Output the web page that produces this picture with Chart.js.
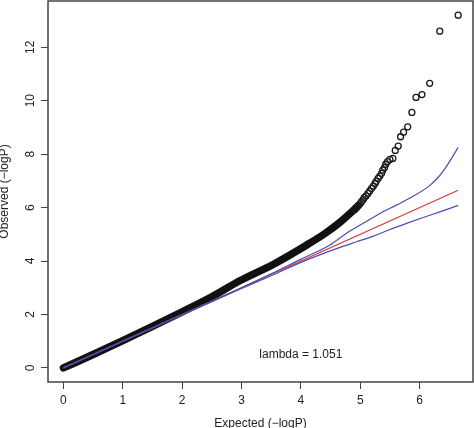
<!DOCTYPE html>
<html>
<head>
<meta charset="utf-8">
<script src="https://cdn.jsdelivr.net/npm/chart.js@4.4.1/dist/chart.umd.min.js"></script>
<style>
    html, body { margin: 0; padding: 0; background: #fff; }
    #wrap { width: 474px; height: 428px; }
</style>
</head>
<body>
<div id="wrap"><canvas id="qq" width="474" height="428"></canvas></div>
<script>
    // Tick labels
    const xTicks = [0, 1, 2, 3, 4, 5, 6];
    const yTicks = [0, 2, 4, 6, 8, 10, 12];

    // Dense part of the observed quantiles (the black band)
    const bandX = [0, 0.5, 1, 1.5, 2, 2.5, 2.97, 3.54, 4.1, 4.4, 4.66, 4.85, 4.97];
    const bandY = [0, 0.5, 1.02, 1.55, 2.1, 2.66, 3.26, 3.88, 4.6, 5.02, 5.45, 5.82, 6.08];

    // Sparse tail, individual circles
    const tailX = [4.91, 4.94, 4.97, 5.0, 5.02, 5.05, 5.07, 5.10, 5.13, 5.16, 5.19, 5.22, 5.25, 5.27, 5.30, 5.33,
                   5.36, 5.38, 5.41, 5.43, 5.46, 5.50, 5.55, 5.59, 5.64, 5.68, 5.73, 5.80, 5.87, 5.94, 6.04, 6.17, 6.34, 6.65];
    const tailY = [5.93, 6.0, 6.08, 6.15, 6.22, 6.30, 6.38, 6.44, 6.53, 6.62, 6.72, 6.80, 6.90, 6.98, 7.09, 7.18,
                   7.28, 7.40, 7.50, 7.62, 7.72, 7.80, 7.84, 8.14, 8.30, 8.65, 8.82, 9.02, 9.56, 10.12, 10.23, 10.65, 12.6, 13.2];

    // Null line y = x
    const nullX = [0, 6.65];
    const nullY = [0, 6.65];

    // 95% band of expected order statistics
    const upperX = [0, 1, 2, 3, 3.5, 4, 4.49, 4.77, 5.05, 5.33, 5.61, 5.89, 6.17, 6.34, 6.5, 6.65];
    const upperY = [0, 1.0, 2.0, 3.0, 3.52, 4.07, 4.6, 5.04, 5.41, 5.78, 6.09, 6.42, 6.82, 7.2, 7.7, 8.25];
    const lowerX = [0, 1, 2, 3, 3.5, 4, 4.66, 4.94, 5.22, 5.5, 5.78, 6.06, 6.34, 6.65];
    const lowerY = [0, 1, 1.98, 2.97, 3.45, 3.95, 4.51, 4.72, 4.93, 5.18, 5.41, 5.63, 5.84, 6.08];

    const lambdaText = 'lambda = 1.051';
    const xTitle = 'Expected (\u2212logP)';
    const yTitle = 'Observed (\u2212logP)';

    const FONT = '"Liberation Sans", Arial, sans-serif';
    const AXIS = '#444';

    function pts(xs, ys) {
        return xs.map((x, i) => ({ x: x, y: ys[i] }));
    }

    // box + titles + lambda label, R style
    const rDecor = {
        id: 'rDecor',
        afterDraw(chart) {
            const { ctx, chartArea: a, scales } = chart;
            ctx.save();
            ctx.strokeStyle = AXIS;
            ctx.lineWidth = 1.5;
            ctx.strokeRect(a.left, a.top, a.right - a.left, a.bottom - a.top);

            ctx.fillStyle = '#222';
            ctx.font = '12px ' + FONT;
            ctx.textAlign = 'center';
            ctx.textBaseline = 'middle';
            ctx.fillText(lambdaText, scales.x.getPixelForValue(4.0), scales.y.getPixelForValue(0.48));

            ctx.fillText(xTitle, (a.left + a.right) / 2, 424);

            ctx.translate(5, (a.top + a.bottom) / 2);
            ctx.rotate(-Math.PI / 2);
            ctx.fillText(yTitle, 0, 0);
            ctx.restore();
        }
    };

    new Chart(document.getElementById('qq'), {
        type: 'scatter',
        data: {
            datasets: [
                {
                    label: 'upper',
                    data: pts(upperX, upperY),
                    showLine: true,
                    borderColor: '#4b4bb0',
                    borderWidth: 1.2,
                    pointRadius: 0,
                    cubicInterpolationMode: 'monotone'
                },
                {
                    label: 'lower',
                    data: pts(lowerX, lowerY),
                    showLine: true,
                    borderColor: '#4b4bb0',
                    borderWidth: 1.2,
                    pointRadius: 0,
                    cubicInterpolationMode: 'monotone'
                },
                {
                    label: 'null',
                    data: pts(nullX, nullY),
                    showLine: true,
                    borderColor: '#d93a3a',
                    borderWidth: 1.2,
                    pointRadius: 0
                },
                {
                    label: 'tail',
                    data: pts(tailX, tailY),
                    pointRadius: 3,
                    pointBorderWidth: 1.3,
                    pointBorderColor: '#1a1a1a',
                    pointBackgroundColor: 'rgba(0,0,0,0)'
                },
                {
                    label: 'band',
                    data: pts(bandX, bandY),
                    showLine: true,
                    borderColor: '#111',
                    borderWidth: 7.5,
                    borderCapStyle: 'round',
                    borderJoinStyle: 'round',
                    pointRadius: 0,
                    cubicInterpolationMode: 'monotone'
                }
            ]
        },
        options: {
            responsive: false,
            animation: false,
            devicePixelRatio: 1,
            layout: { autoPadding: false, padding: { top: 1, right: 1, left: 0, bottom: 0 } },
            plugins: { legend: { display: false }, tooltip: { enabled: false } },
            scales: {
                x: {
                    type: 'linear',
                    min: -0.26,
                    max: 6.9,
                    afterBuildTicks: s => { s.ticks = xTicks.map(v => ({ value: v })); },
                    afterFit: s => { s.height = 46; s.paddingLeft = 0; s.paddingRight = 0; },
                    grid: { drawOnChartArea: false, drawTicks: true, tickLength: 7, color: AXIS, lineWidth: 1 },
                    border: { display: false },
                    ticks: { font: { family: FONT, size: 12 }, color: '#222', padding: 4, maxRotation: 0, autoSkip: false }
                },
                y: {
                    type: 'linear',
                    min: -0.528,
                    max: 13.73,
                    afterBuildTicks: s => { s.ticks = yTicks.map(v => ({ value: v })); },
                    afterFit: s => { s.width = 48; s.paddingTop = 0; s.paddingBottom = 0; },
                    grid: { drawOnChartArea: false, drawTicks: true, tickLength: 7, color: AXIS, lineWidth: 1 },
                    border: { display: false },
                    ticks: { font: { family: FONT, size: 12 }, color: '#222', padding: 4, minRotation: 90, maxRotation: 90, crossAlign: 'center', autoSkip: false }
                }
            }
        },
        plugins: [rDecor]
    });
</script>
</body>
</html>
